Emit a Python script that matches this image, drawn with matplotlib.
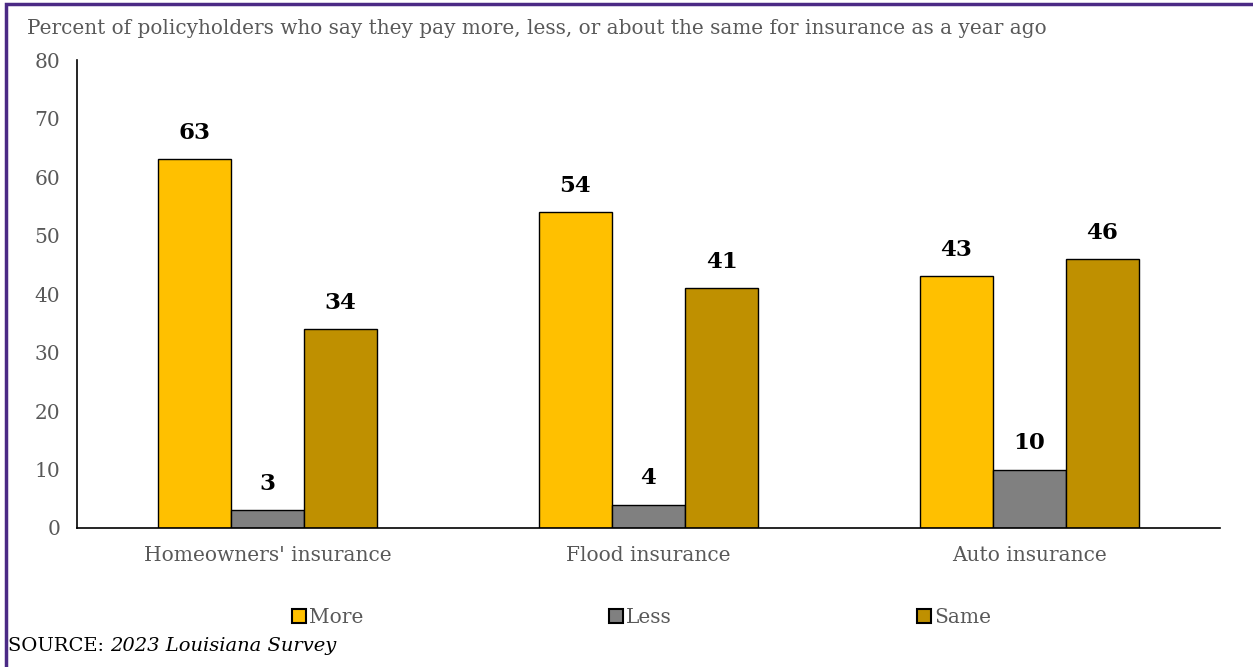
import numpy as np
import matplotlib.pyplot as plt
from matplotlib.patches import Rectangle

categories = ["Homeowners' insurance", "Flood insurance", "Auto insurance"]
series = ["More", "Less", "Same"]
more = [63, 54, 43]
less = [3, 4, 10]
same = [34, 41, 46]
colors = ["#FFC000", "#808080", "#BF9000"]

plt.rcParams['font.family'] = ['DejaVu Serif']

fig = plt.figure(figsize=(12.53, 6.67), dpi=100)
ax = fig.add_axes([0.0615, 0.2084, 0.912, 0.7016])

x = np.arange(len(categories))
w = 0.192
for i, (vals, c, name) in enumerate(zip([more, less, same], colors, series)):
    bars = ax.bar(x + (i - 1) * w, vals, w, color=c, edgecolor="black",
                  linewidth=1, label=name)
    for b, v in zip(bars, vals):
        ax.annotate(str(v), (b.get_x() + b.get_width() / 2, v),
                    xytext=(0, 11), textcoords="offset points",
                    ha="center", va="bottom", fontsize=16.5, fontweight="bold")

ax.set_xlim(-0.5, 2.5)
ax.set_ylim(0, 80)
ax.set_yticks(range(0, 81, 10))
ax.set_xticks(x)
ax.set_xticklabels(categories)
ax.tick_params(axis="both", length=0, labelsize=14.5, colors="#595959", pad=12)
ax.tick_params(axis="x", pad=13)
for s in ["top", "right"]:
    ax.spines[s].set_visible(False)
ax.spines["left"].set_linewidth(1.2)
ax.spines["bottom"].set_linewidth(1.2)

fig.text(0.0215, 0.957, "Percent of policyholders who say they pay more, less, or about the same for insurance as a year ago",
         fontsize=14.4, color="#595959", va="center")

leg = fig.legend(loc="center", bbox_to_anchor=(0.512, 0.074), ncol=3, frameon=False,
                 fontsize=14.5, handlelength=0.7, handleheight=0.7, handletextpad=0.15,
                 columnspacing=12.2, labelcolor="#595959")
for h in leg.legend_handles:
    h.set_linewidth(1.5)

src = fig.text(0.006, 0.031, "SOURCE: ", fontsize=14, va="center")
fig.canvas.draw()
bb = src.get_window_extent().transformed(fig.transFigure.inverted())
fig.text(bb.x1, 0.031, "2023 Louisiana Survey", fontsize=14, va="center", style="italic")

# purple frame
fig.patches.append(Rectangle((0.005, -0.01), 1.2, 1.004, transform=fig.transFigure,
                             fill=False, edgecolor="#4B2A85", linewidth=2.5))

fig.savefig("out.png", dpi=100)
